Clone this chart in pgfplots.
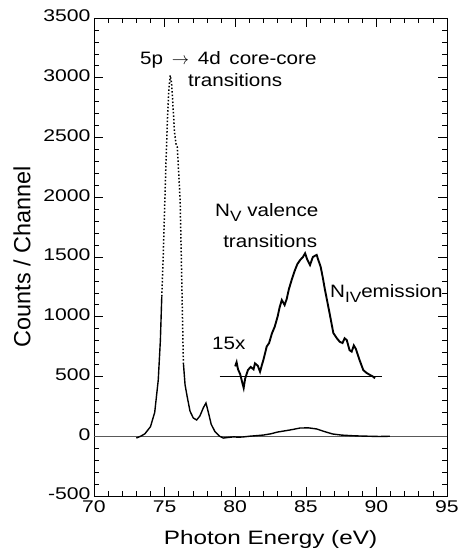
\documentclass[border=0pt]{standalone}
\usepackage{fontspec}
\setmainfont{Liberation Sans}
\newfontfamily\tickfont{Liberation Sans}[FakeStretch=1.25]
\newfontfamily\xlabfont{Liberation Sans}[FakeStretch=1.25]
\newfontfamily\annfont{Liberation Sans}[FakeStretch=1.15]
\newcommand{\sub}[1]{\raisebox{-5bp}{\fontsize{15}{16}\selectfont #1}}
\usepackage{pgfplots}
\pgfplotsset{compat=1.18}

\begin{document}
\begin{tikzpicture}
\begin{axis}[
    name=ax,
    scale only axis,
    width=353bp, height=478bp,
    xmin=70, xmax=95, ymin=-500, ymax=3500,
    xtick={70,75,...,95}, ytick={-500,0,...,3500},
    minor x tick num=4, minor y tick num=4,
    major tick length=9bp, minor tick length=5bp,
    tick style={black, line width=0.6pt},
    axis line style={line width=0.8pt},
    /pgf/number format/assume math mode=true,
    /pgf/number format/1000 sep={},
    tick label style={font=\tickfont\fontsize{17}{19}\selectfont},
    xticklabel style={yshift=-1bp},
    yticklabel style={yshift=2bp},
    xlabel={Photon Energy (eV)},
    xlabel style={font=\xlabfont\fontsize{19.5}{22}\selectfont, yshift=-11bp},
    ylabel={Counts / Channel},
    ylabel style={font=\fontsize{23.5}{26}\selectfont, yshift=6bp},
    clip=false,
]
% zero line
\addplot[gray!70!black, line width=0.5pt] coordinates {(70,0) (95,0)};
% 15x baseline
\addplot[black, line width=0.5pt] coordinates {(78.9,500) (90.4,500)};

% main spectrum, lower left flank
\addplot[black, line width=1.4pt] coordinates {
(73.0,-15) (73.3,0) (73.6,20) (74.0,80) (74.3,200) (74.55,470) (74.7,800) (74.8,1170)
};
% steep peak region (sparse points)
\addplot[black, line width=1.5pt, dotted] coordinates {
(74.8,1170) (74.9,1500) (75.0,1900) (75.1,2300) (75.2,2650) (75.3,2900) (75.4,3020)
(75.5,2950) (75.6,2750) (75.7,2550) (75.8,2450) (75.9,2420) (76.0,2200) (76.1,1977)
(76.2,1400) (76.33,613)
};
% main spectrum, right part
\addplot[black, line width=1.4pt] coordinates {
(76.33,613) (76.45,430) (76.6,331) (76.8,210) (77.03,153) (77.27,136) (77.5,170)
(77.75,240) (77.93,278) (78.1,200) (78.3,100) (78.57,38) (78.9,0) (79.16,-15)
(79.5,-10) (79.9,-5) (80.2,-8) (80.55,-6) (81.0,0) (81.5,5) (82.0,10) (82.5,20)
(83.0,35) (83.5,45) (84.0,55) (84.6,69) (85.2,70) (85.77,61) (86.3,40) (86.9,19)
(87.5,10) (88.2,5) (88.84,2) (89.5,0) (90.2,-2) (90.96,0)
};
% 15x magnified
\addplot[black, line width=1.9pt] coordinates {
(80.0,585) (80.1,620) (80.2,560) (80.35,520) (80.5,450) (80.6,404) (80.7,480)
(80.9,554) (81.1,580) (81.3,560) (81.4,610) (81.6,590) (81.76,540) (81.9,600)
(82.0,640) (82.23,750) (82.4,780) (82.6,860) (82.8,917) (83.0,1000) (83.15,1080)
(83.3,1140) (83.5,1098) (83.65,1150) (83.8,1230) (84.0,1308) (84.2,1380) (84.4,1440)
(84.6,1475) (84.8,1500) (84.95,1531) (85.1,1480) (85.3,1433) (85.5,1500) (85.65,1510)
(85.77,1517) (85.9,1470) (86.05,1419) (86.2,1330) (86.35,1230) (86.5,1140) (86.7,1020)
(86.95,864) (87.2,820) (87.4,791) (87.6,780) (87.75,820) (87.9,805) (88.1,720)
(88.25,708) (88.4,760) (88.55,730) (88.8,640) (89.07,554) (89.3,530) (89.55,513)
(89.75,500) (89.9,485)
};

\node[anchor=west, inner sep=0pt, font=\annfont\fontsize{18}{20}\selectfont]
  at (axis cs:73.26,3148) {5p \,$\rightarrow$\, 4d\, core-core};
\node[anchor=west, inner sep=0pt, font=\annfont\fontsize{18}{20}\selectfont]
  at (axis cs:76.66,2981) {transitions};
\node[anchor=base west, inner sep=0pt, font=\annfont\fontsize{18}{20}\selectfont]
  at (axis cs:78.57,1840) {N\sub{V} valence};
\node[anchor=west, inner sep=0pt, font=\annfont\fontsize{18}{20}\selectfont]
  at (axis cs:79.14,1630) {transitions};
\node[anchor=base west, inner sep=0pt, font=\annfont\fontsize{18}{20}\selectfont]
  at (axis cs:86.71,1160) {N\sub{IV}emission};
\node[anchor=west, inner sep=0pt, font=\annfont\fontsize{18}{20}\selectfont]
  at (axis cs:78.36,780) {15x};
\end{axis}
\pgfresetboundingbox
\useasboundingbox ([shift={(-94bp,-62bp)}]ax.south west) rectangle ([shift={(12bp,18bp)}]ax.north east);
\end{tikzpicture}
\end{document}
